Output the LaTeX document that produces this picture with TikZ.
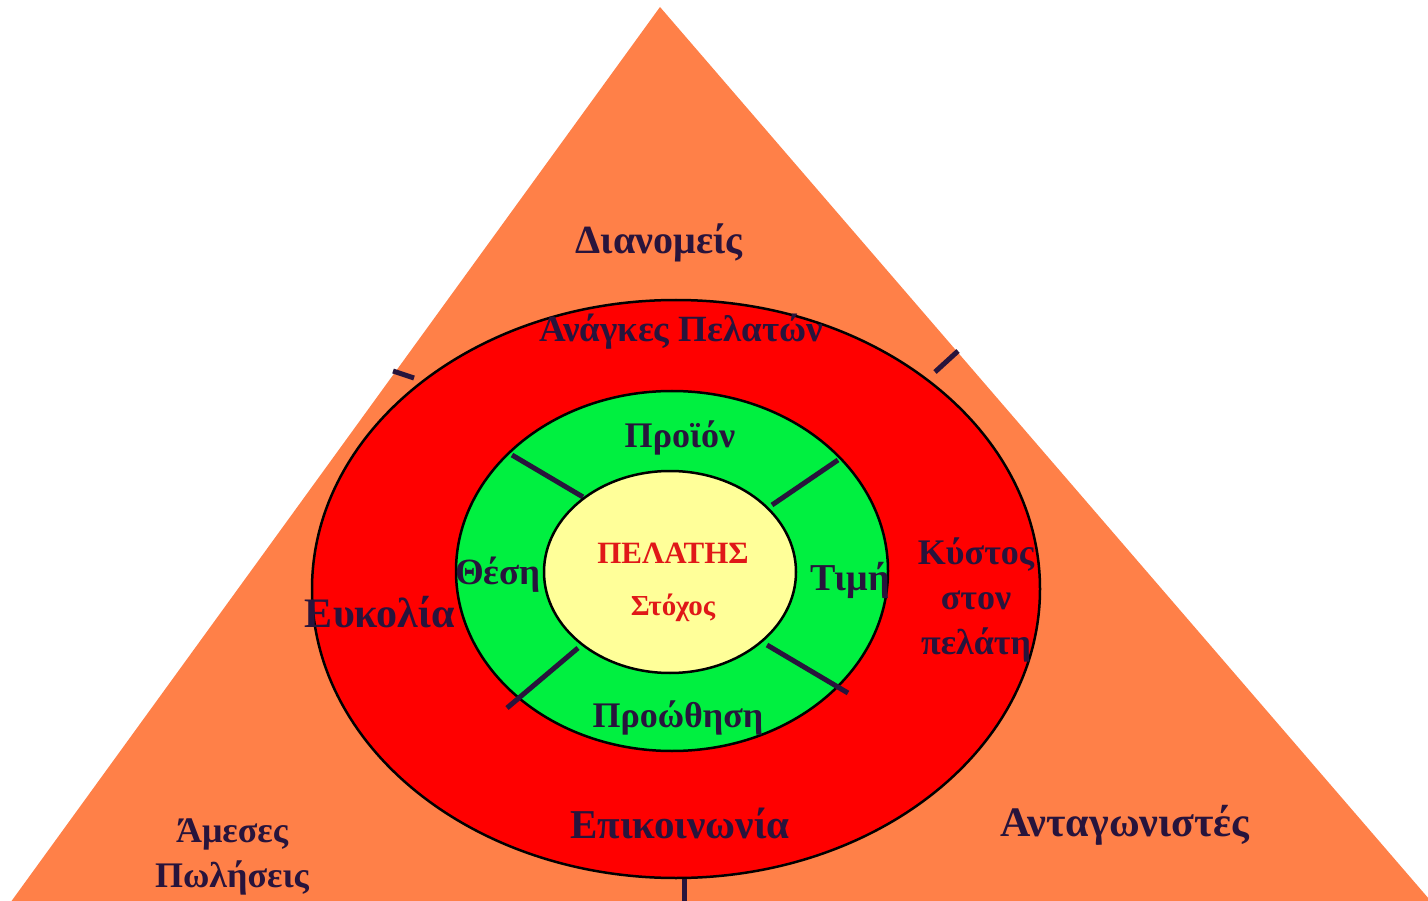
\documentclass[tikz,border=0pt]{standalone}
\usepackage{fontspec}
\setmainfont{Liberation Serif}
\usetikzlibrary{shapes.geometric}
\definecolor{tri}{RGB}{255,128,72}
\definecolor{ring}{RGB}{255,0,0}
\definecolor{grn}{RGB}{0,240,64}
\definecolor{core}{RGB}{255,255,153}
\definecolor{ink}{RGB}{40,20,60}
\definecolor{redink}{RGB}{224,24,24}
\newcommand{\fs}[1]{\bfseries\fontsize{#1}{45}\selectfont}
\tikzset{
  oval/.style={ellipse, draw=black, line width=2.5pt, inner sep=0pt},
  divider/.style={draw=ink, line width=5pt},
  lbl/.style={text=ink, align=center, inner sep=0pt},
  redlbl/.style={text=redink, inner sep=0pt}
}
\begin{document}
\begin{tikzpicture}[x=1pt,y=-1pt]
\useasboundingbox (0,0) rectangle (1428,901);
\clip (0,0) rectangle (1428,901);
% triangle
\coordinate (apex) at (660,7);
\coordinate (bl) at (-24,950);
\coordinate (br) at (1473,950);
\fill[tri] (apex) -- (bl) -- (br) -- cycle;
% ticks between ellipse and triangle
\coordinate (tl1) at (393,371); \coordinate (tl2) at (414,378);
\coordinate (tr1) at (935,372); \coordinate (tr2) at (958,351);
\coordinate (tb1) at (684,878); \coordinate (tb2) at (684,905);
\draw[divider] (tl1) -- (tl2);
\draw[divider] (tr1) -- (tr2);
\draw[divider] (tb1) -- (tb2);
% ellipses
\node[oval, fill=ring, minimum width=728pt, minimum height=578pt] (red) at (676,589) {};
\node[oval, fill=grn, minimum width=432pt, minimum height=360pt] (green) at (672,571) {};
% dividers in green ring
\coordinate (d1a) at (512,455); \coordinate (d1b) at (583,497);
\coordinate (d2a) at (838,460); \coordinate (d2b) at (772,505);
\coordinate (d3a) at (507,708); \coordinate (d3b) at (578,648);
\coordinate (d4a) at (848,693); \coordinate (d4b) at (767,645);
\draw[divider] (d1a) -- (d1b);
\draw[divider] (d2a) -- (d2b);
\draw[divider] (d3a) -- (d3b);
\draw[divider] (d4a) -- (d4b);
\node[oval, fill=core, minimum width=252pt, minimum height=202pt] (yellow) at (670,572) {};
% labels
\node[lbl, font=\fs{40}] (dian) at (659,243) {Διανομείς};
\node[lbl, font=\fs{37}] (anag) at (681,332) {Ανάγκες Πελατών};
\node[lbl, font=\fs{36}] (proion) at (680,438) {Προϊόν};
\node[redlbl, font=\fs{31}] (pelatis) at (673,553) {ΠΕΛΑΤΗΣ};
\node[redlbl, font=\fs{29}] (stoxos) at (673,608) {Στόχος};
\node[lbl, font=\fs{37}] (thesi) at (498,575) {Θέση};
\node[lbl, font=\fs{38}] (timi) at (850,580) {Τιμή};
\node[lbl, font=\fs{42}] (eykolia) at (380,612) {Ευκολία};
\node[lbl, font=\fs{36}] (kostos) at (976,600) {Κύστος\\στον\\πελάτη};
\node[lbl, font=\fs{36}] (proothisi) at (678,718) {Προώθηση};
\node[lbl, font=\fs{41}] (epik) at (680,823) {Επικοινωνία};
\node[lbl, font=\fs{36}] (ameses) at (232,857) {Άμεσες\\Πωλήσεις};
\node[lbl, font=\fs{42}] (antag) at (1125,825) {Ανταγωνιστές};
\end{tikzpicture}
\end{document}
